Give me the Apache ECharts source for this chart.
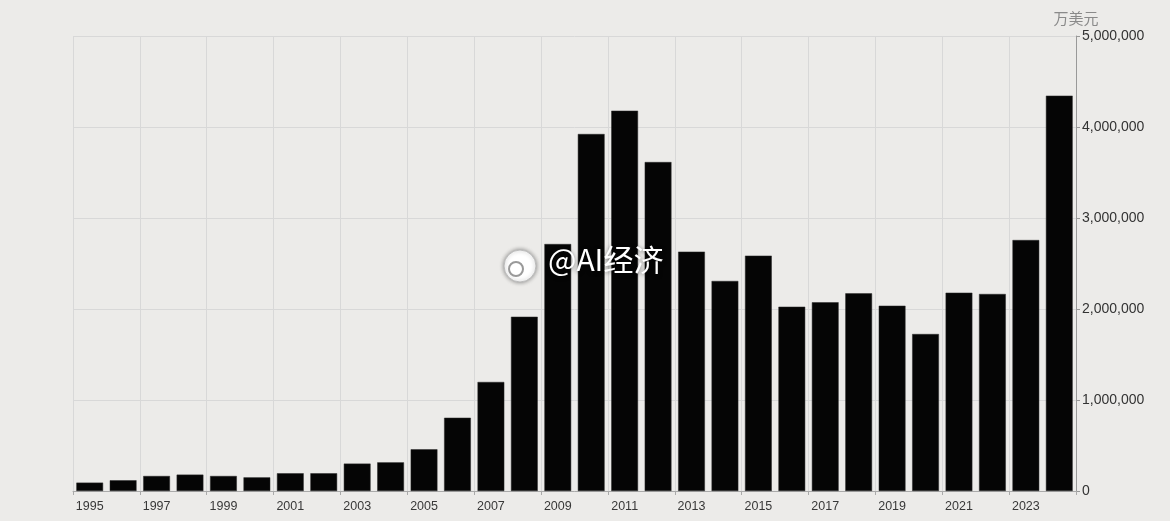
<!DOCTYPE html>
<html>
<head>
<meta charset="utf-8">
<script src="https://cdn.jsdelivr.net/npm/echarts@6/dist/echarts.min.js"></script>
<style>
html,body{margin:0;padding:0;background:#ecebe9;}
#c{width:1170px;height:521px;}
</style>
</head>
<body>
<div id="c"></div>
<script>
const years = ['1995','1996','1997','1998','1999','2000','2001','2002','2003','2004','2005','2006','2007','2008','2009','2010','2011','2012','2013','2014','2015','2016','2017','2018','2019','2020','2021','2022','2023','2024'];
const values = [92000,118000,165000,180000,165000,150000,195000,195000,301000,315000,458000,805000,1198000,1915000,2714000,3923000,4179000,3615000,2630000,2308000,2586000,2025000,2074000,2172000,2036000,1725000,2179000,2165000,2758000,4344000];
const unitLabel = '万美元';
const watermark = '@AI经济';

const chart = echarts.init(document.getElementById('c'));
chart.setOption({
  backgroundColor: '#ecebe9',
  animation: false,
  grid: {left: 73, right: 94, top: 36, bottom: 30},
  xAxis: {
    type: 'category',
    data: years,
    boundaryGap: true,
    axisLine: {show: true, lineStyle: {color: '#aaaaaa', width: 1}},
    axisTick: {show: true, interval: 1, length: 4, lineStyle: {color: '#aaaaaa'}},
    axisLabel: {interval: 1, color: '#383838', fontSize: 12.5, margin: 9, fontFamily: 'Liberation Sans, Arial, sans-serif'},
    splitLine: {show: true, interval: 1, lineStyle: {color: '#d8d8d8', width: 1}}
  },
  yAxis: {
    type: 'value',
    position: 'right',
    min: 0, max: 5000000, interval: 1000000,
    name: unitLabel,
    nameLocation: 'end',
    nameGap: 10,
    nameTextStyle: {color: '#8a8a8a', fontSize: 15, align: 'center', fontFamily: 'Noto Sans CJK SC, sans-serif'},
    axisLine: {show: true, lineStyle: {color: '#999999', width: 1}},
    axisTick: {show: true, length: 4, lineStyle: {color: '#999999'}},
    axisLabel: {color: '#333333', fontSize: 14, margin: 6,
      fontFamily: 'Liberation Sans, Arial, sans-serif',
      formatter: v => v.toLocaleString('en-US')},
    splitLine: {show: true, lineStyle: {color: '#d8d8d8', width: 1}}
  },
  series: [{
    type: 'bar',
    data: values,
    barCategoryGap: '20%',
    itemStyle: {color: '#050505', borderColor: '#2a2a2a', borderWidth: 0.5}
  }],
  graphic: [
    {type: 'circle', shape: {cx: 520, cy: 266, r: 16}, style: {fill: '#ffffff', stroke: '#bbbbbb', lineWidth: 1, shadowBlur: 4, shadowColor: 'rgba(0,0,0,0.4)'}, z: 100},
    {type: 'circle', shape: {cx: 516, cy: 269, r: 7}, style: {fill: 'none', stroke: '#999999', lineWidth: 2}, z: 101},
    {type: 'text', left: 548, top: 245, z: 100,
      style: {text: watermark, fill: '#ffffff', fontSize: 30, fontFamily: 'Noto Sans CJK SC, sans-serif',
        textShadowBlur: 4, textShadowColor: 'rgba(0,0,0,0.55)', textShadowOffsetX: 0, textShadowOffsetY: 1}}
  ]
});
</script>
</body>
</html>
